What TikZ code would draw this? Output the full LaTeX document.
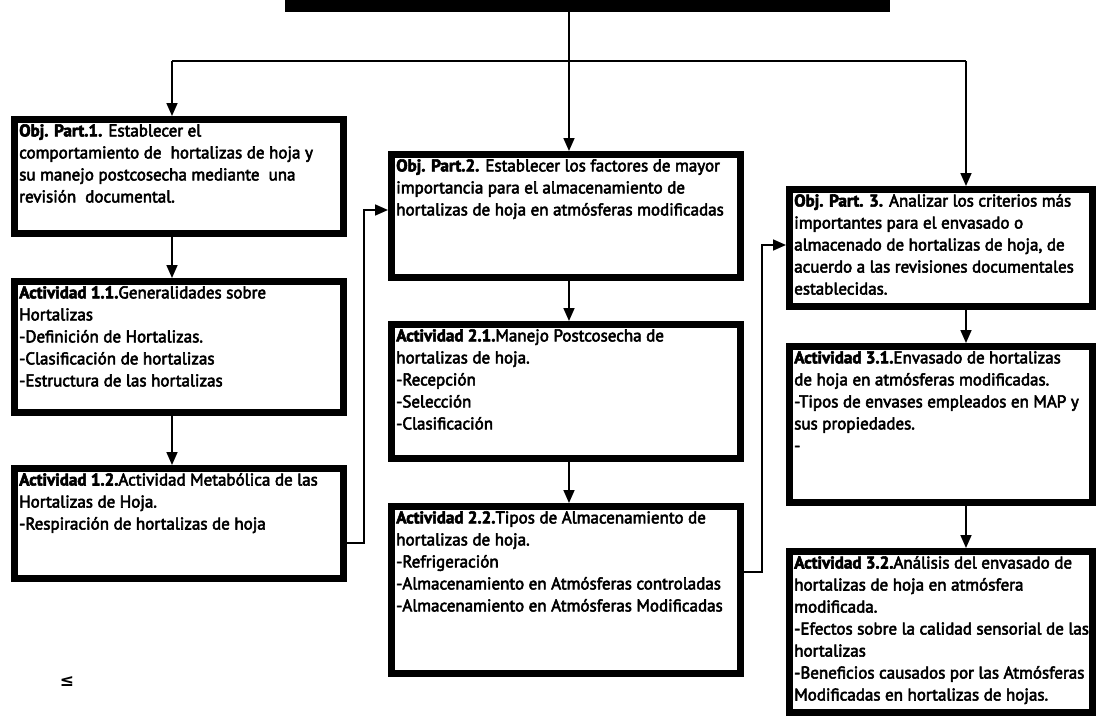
\documentclass[tikz,border=0pt]{standalone}
\usepackage{fontspec}
\setmainfont{PT Sans}
\newfontfamily\djv{DejaVu Sans}
\usetikzlibrary{arrows.meta}
\newcommand\heavyon{\special{pdf:literal 2 Tr 0.55 w}}
\newcommand\heavyoff{\special{pdf:literal 0 Tr}}
\newcommand\bt[3]{\begin{minipage}[t][#2pt][t]{#1pt}\vspace{0pt}\raggedright\fontsize{17}{22}\selectfont\heavyon #3\heavyoff\end{minipage}}
\begin{document}
\begin{tikzpicture}[x=1pt,y=-1pt,
  box/.style={draw, line width=6.5pt, inner xsep=5pt, inner ysep=5pt, anchor=north west},
  ln/.style={line width=1.7pt},
  arr/.style={line width=1.7pt, -{Triangle[width=11pt,length=13pt]}}]
\useasboundingbox (0,0) rectangle (1096,723);
% title bar
\node[fill=black, anchor=north west, minimum width=605pt, minimum height=12pt, inner sep=0pt] (top) at (285,0) {};
% column 1
\node[box] (o1) at (11,116) {\bt{319}{104}{\textbf{Obj. Part.1.} Establecer el\\ comportamiento de \ hortalizas de hoja y\\ su manejo postcosecha mediante \ una\\ revisión \ documental.}};
\node[box] (a11) at (11,278) {\bt{319}{121}{\textbf{Actividad 1.1.}Generalidades sobre\\ Hortalizas\\ -Definición de Hortalizas.\\ -Clasificación de hortalizas\\ -Estructura de las hortalizas}};
\node[box] (a12) at (11,465) {\bt{319}{100}{\textbf{Actividad 1.2.}\mbox{Actividad Metabólica de las}\\ Hortalizas de Hoja.\\ -Respiración de hortalizas de hoja}};
% column 2
\node[box] (o2) at (388,151) {\bt{339}{113}{\textbf{Obj. Part.2.} \mbox{Establecer los factores de mayor}\\ importancia para el almacenamiento de\\ \mbox{hortalizas de hoja en atmósferas modificadas}}};
\node[box] (a21) at (388,321) {\bt{339}{124}{\textbf{Actividad 2.1.}Manejo Postcosecha de\\ hortalizas de hoja.\\ -Recepción\\ -Selección\\ -Clasificación}};
\node[box] (a22) at (388,503) {\bt{339}{157}{\textbf{Actividad 2.2.}\mbox{Tipos de Almacenamiento de}\\ hortalizas de hoja.\\ -Refrigeración\\ \mbox{-Almacenamiento en Atmósferas controladas}\\ \mbox{-Almacenamiento en Atmósferas Modificadas}}};
% column 3
\node[box] (o3) at (786,186) {\bt{293}{107}{\textbf{Obj. Part. 3.} \mbox{Analizar los criterios más}\\ importantes para el envasado o\\ \mbox{almacenado de hortalizas de hoja, de}\\ \mbox{acuerdo a las revisiones documentales}\\ establecidas.}};
\node[box] (a31) at (786,343) {\bt{293}{146}{\textbf{Actividad 3.1.}\mbox{Envasado de hortalizas}\\ \mbox{de hoja en atmósferas modificadas.}\\ \mbox{-Tipos de envases empleados en MAP y}\\ sus propiedades.\\ -}};
\node[box] (a32) at (786,548) {\bt{293}{151}{\textbf{Actividad 3.2.}\mbox{Análisis del envasado de}\\ hortalizas de hoja en atmósfera\\ modificada.\\ \mbox{-Efectos sobre la calidad sensorial de las}\\ hortalizas\\ \mbox{-Beneficios causados por las Atmósferas}\\ \mbox{Modificadas en hortalizas de hojas.}}};
% stray symbol
\node (le) at (67,682) {\djv\bfseries\fontsize{17}{20}\selectfont ≤};
% coordinates
\coordinate (c1) at (172,0);
\coordinate (c2) at (569,0);
\coordinate (c3) at (966,0);
\coordinate (hl) at (0,61);
\coordinate (j1) at (364,543);
\coordinate (k1) at (364,210);
\coordinate (j2) at (762,572);
\coordinate (k2) at (762,245);
% connectors
\draw[arr] (top.south -| c2) -- (o2.north -| c2);
\draw[ln] (hl -| c1) -- (hl -| c3);
\draw[arr] (hl -| c1) -- (o1.north -| c1);
\draw[arr] (hl -| c3) -- (o3.north -| c3);
\draw[arr] (o1.south -| c1) -- (a11.north -| c1);
\draw[arr] (a11.south -| c1) -- (a12.north -| c1);
\draw[arr] (o2.south -| c2) -- (a21.north -| c2);
\draw[arr] (a21.south -| c2) -- (a22.north -| c2);
\draw[arr] (o3.south -| c3) -- (a31.north -| c3);
\draw[arr] (a31.south -| c3) -- (a32.north -| c3);
\draw[arr] (a12.east |- j1) -- (j1) -- (k1) -- (o2.west |- k1);
\draw[arr] (a22.east |- j2) -- (j2) -- (k2) -- (o3.west |- k2);
\end{tikzpicture}
\end{document}
